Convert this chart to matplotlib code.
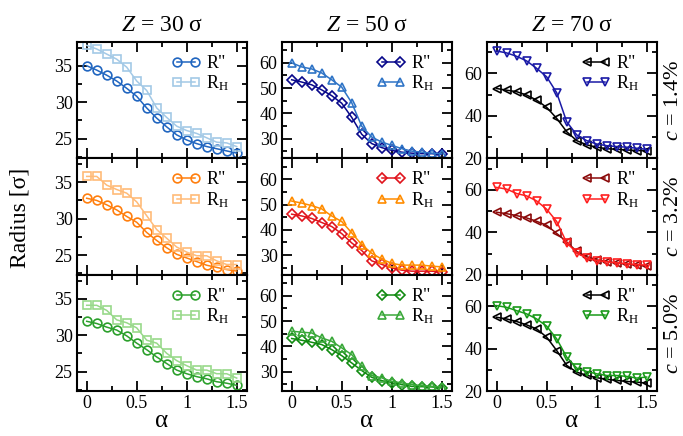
import matplotlib
matplotlib.use("Agg")
import matplotlib.pyplot as plt
from matplotlib.ticker import MultipleLocator

plt.rcParams['font.family'] = ['Liberation Serif', 'DejaVu Serif']
plt.rcParams['mathtext.fontset'] = 'custom'
plt.rcParams['mathtext.rm'] = 'Liberation Serif'
plt.rcParams['mathtext.it'] = 'Liberation Serif:italic'

alpha = [0.0, 0.1, 0.2, 0.3, 0.4, 0.5, 0.6, 0.7, 0.8, 0.9, 1.0, 1.1, 1.2, 1.3, 1.4, 1.5]

titles = ["$Z$ = 30 σ", "$Z$ = 50 σ", "$Z$ = 70 σ"]
conc_labels = ["$c$ = 1.4%", "$c$ = 3.2%", "$c$ = 5.0%"]

# Z = 30
r2_z30_c14 = [35.0, 34.4, 33.7, 32.9, 31.9, 30.8, 29.2, 27.8, 26.6, 25.5, 24.8, 24.3, 23.9, 23.6, 23.3, 23.0]
rh_z30_c14 = [37.8, 37.3, 36.6, 35.9, 34.8, 32.9, 31.6, 29.2, 27.9, 26.7, 26.1, 25.7, 25.1, 24.5, 24.4, 23.9]
r2_z30_c32 = [32.8, 32.5, 31.9, 31.2, 30.3, 29.5, 28.1, 27.0, 26.0, 25.1, 24.6, 24.1, 23.6, 23.3, 23.0, 22.8]
rh_z30_c32 = [35.8, 35.8, 34.6, 34.0, 33.5, 32.3, 30.4, 28.5, 27.3, 26.1, 25.4, 24.9, 24.9, 24.2, 23.7, 23.7]
r2_z30_c50 = [31.9, 31.6, 31.1, 30.7, 29.9, 28.9, 28.0, 27.0, 26.1, 25.2, 24.7, 24.3, 24.0, 23.6, 23.4, 23.1]
rh_z30_c50 = [34.1, 34.1, 33.4, 32.1, 31.7, 31.0, 29.3, 28.9, 27.5, 26.5, 25.8, 25.2, 25.2, 24.7, 24.7, 24.1]

# Z = 50
r2_z50_c14 = [53.3, 52.4, 51.3, 49.3, 47.0, 44.0, 38.4, 31.7, 28.0, 26.4, 25.3, 24.6, 24.2, 24.0, 24.0, 23.7]
rh_z50_c14 = [60.0, 58.4, 57.6, 56.0, 53.3, 50.4, 44.2, 34.9, 30.6, 28.6, 27.3, 26.0, 25.0, 24.6, 24.2, 24.0]
r2_z50_c32 = [46.2, 45.5, 44.5, 42.9, 41.3, 38.5, 34.8, 31.8, 27.7, 26.3, 24.9, 24.0, 23.6, 23.6, 23.6, 23.3]
rh_z50_c32 = [51.4, 50.6, 49.6, 48.3, 45.5, 43.3, 38.8, 34.1, 30.7, 28.4, 26.7, 26.0, 26.0, 26.0, 25.6, 25.3]
r2_z50_c50 = [43.1, 42.4, 41.6, 40.7, 38.7, 36.3, 33.4, 30.4, 27.7, 26.4, 25.5, 24.8, 24.1, 24.0, 23.9, 23.5]
rh_z50_c50 = [46.0, 45.6, 45.3, 43.3, 42.0, 39.4, 36.7, 32.1, 28.4, 27.5, 26.1, 25.5, 24.8, 24.4, 24.1, 23.9]

# Z = 70
r2_z70_c14 = [52.9, 52.1, 51.4, 49.8, 47.4, 44.0, 38.8, 32.5, 28.3, 26.3, 25.2, 24.5, 24.2, 23.9, 23.6, 23.6]
rh_z70_c14 = [70.6, 69.7, 68.1, 65.9, 62.4, 58.4, 50.9, 37.2, 31.0, 28.3, 26.7, 25.9, 25.5, 25.2, 24.7, 24.2]
r2_z70_c32 = [49.5, 48.8, 47.9, 46.8, 45.2, 43.3, 39.5, 35.5, 31.0, 28.5, 27.0, 26.2, 25.5, 25.0, 24.5, 24.0]
rh_z70_c32 = [61.2, 60.4, 58.3, 57.2, 54.8, 50.9, 45.1, 35.1, 30.4, 27.7, 26.7, 26.1, 25.6, 25.2, 24.8, 24.5]
r2_z70_c50 = [54.9, 54.1, 52.9, 51.3, 49.4, 45.5, 39.2, 32.2, 29.0, 27.5, 26.4, 25.6, 25.1, 24.6, 24.3, 23.8]
rh_z70_c50 = [60.4, 59.6, 58.0, 56.5, 54.1, 50.7, 44.7, 36.1, 30.9, 29.3, 28.2, 27.4, 27.4, 27.0, 26.2, 26.7]

r2_data = [[r2_z30_c14, r2_z50_c14, r2_z70_c14],
           [r2_z30_c32, r2_z50_c32, r2_z70_c32],
           [r2_z30_c50, r2_z50_c50, r2_z70_c50]]
rh_data = [[rh_z30_c14, rh_z50_c14, rh_z70_c14],
           [rh_z30_c32, rh_z50_c32, rh_z70_c32],
           [rh_z30_c50, rh_z50_c50, rh_z70_c50]]

r2_colors = [["#2166c0", "#08088a", "#000000"],
             ["#ff7f0e", "#e0141c", "#8b0a0a"],
             ["#2ca02c", "#108a10", "#000000"]]
rh_colors = [["#a3c9e6", "#2f74c6", "#1a1aa6"],
             ["#ffbb78", "#ff8c00", "#ff2020"],
             ["#98d98a", "#3aa83a", "#1a9a1a"]]
r2_markers = ["o", "D", "<"]
rh_markers = ["s", "^", "v"]
r2_ms = [6.3, 5.0, 6.0]
rh_ms = [6.0, 6.3, 6.0]

ylims = [(22.3, 38.3), (22.2, 68.4), (20, 75)]
ymajor = [5, 10, 20]
yminor = [2.5, 5, 10]

fig = plt.figure(figsize=(6.83, 4.36), dpi=100)
W, H = 683.0, 436.0
lefts = [76.7, 281.7, 486.7]
tops = [41.7, 158.2, 274.7]
aw, ah = 170.0, 116.5

for i in range(3):
    for j in range(3):
        ax = fig.add_axes([lefts[j] / W, 1 - (tops[i] + ah) / H, aw / W, ah / H])
        ax.plot(alpha, r2_data[i][j], color=r2_colors[i][j], marker=r2_markers[j],
                mfc="none", ms=r2_ms[j], mew=1.2, lw=1.1, label='R"')
        ax.plot(alpha, rh_data[i][j], color=rh_colors[i][j], marker=rh_markers[j],
                mfc="none", ms=rh_ms[j], mew=1.2, lw=1.1, label=r"R$_\mathrm{H}$")
        ax.set_xlim(-0.1, 1.6)
        ax.set_ylim(*ylims[j])
        ax.xaxis.set_major_locator(MultipleLocator(0.5))
        ax.xaxis.set_minor_locator(MultipleLocator(0.25))
        ax.yaxis.set_major_locator(MultipleLocator(ymajor[j]))
        ax.yaxis.set_minor_locator(MultipleLocator(yminor[j]))
        ax.xaxis.set_major_formatter(plt.FuncFormatter(lambda v, p: "%g" % v))
        ax.tick_params(which="both", direction="in", top=True, right=True,
                       width=1.3, labelsize=13, pad=3)
        ax.tick_params(which="major", length=7)
        ax.tick_params(which="minor", length=3.5)
        for s in ax.spines.values():
            s.set_linewidth(1.5)
        if i < 2:
            ax.tick_params(labelbottom=False)
        else:
            ax.set_xlabel("α", fontsize=18, labelpad=-2)
        if i == 0:
            ax.set_title(titles[j], fontsize=17, pad=8)
        if j == 2:
            ax.text(1.1, 0.5, conc_labels[i], transform=ax.transAxes,
                    rotation=90, ha="center", va="center", fontsize=16)
        ax.legend(loc="upper right", bbox_to_anchor=(0.96, 0.98), frameon=False,
                  fontsize=13, handlelength=1.6, handletextpad=0.3,
                  labelspacing=0.1, borderaxespad=0.2, numpoints=2)

fig.text(0.03, 0.5, "Radius [σ]", rotation=90, ha="center", va="center", fontsize=17)

fig.savefig("out.png", dpi=100)
